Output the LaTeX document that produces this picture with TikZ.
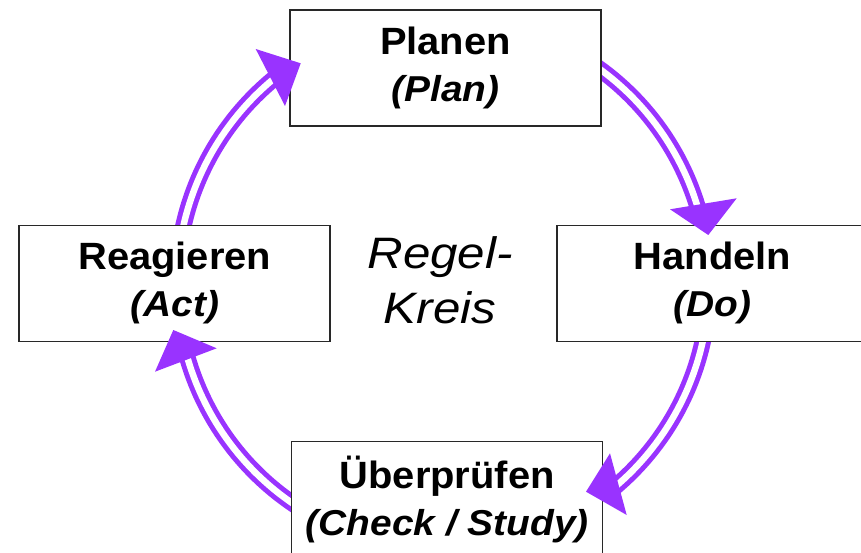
\documentclass[tikz,border=0pt]{standalone}
\usepackage{graphicx}
\usepackage{fontspec}
\setmainfont{Liberation Sans}
\definecolor{loopviolet}{RGB}{153,51,255}
\definecolor{frame}{RGB}{40,40,40}
% two-line stage label: bold name, bold italic English term
\newcommand\twoline[2]{%
  \scalebox{1.05}[1]{\fontsize{38}{47}\selectfont\bfseries #1}\\
  \scalebox{1.08}[1]{\fontsize{36}{47}\selectfont\bfseries\itshape #2}}
\begin{document}
\begin{tikzpicture}[x=1pt,y=1pt,
  stagebox/.style={draw=frame, line width=1.5pt, fill=white,
    minimum width=311pt, minimum height=116pt, align=center, inner sep=0pt,
    font=\fontsize{38}{47}\selectfont},
  shaft/.style={draw=loopviolet, double=white, line width=5pt, double distance=6.5pt},
  head/.style={fill=loopviolet}]
\useasboundingbox (0,0) rectangle (861,552);
\coordinate (ctr) at (443,268);

% curved double shafts (drawn below the boxes, which hide their starts)
\draw[shaft] ([shift={(172:266pt)}]ctr) arc[start angle=172, end angle=129, radius=266pt];
\draw[shaft] ([shift={(58:266pt)}]ctr) arc[start angle=58, end angle=16, radius=266pt];
\draw[shaft] ([shift={(-8:266pt)}]ctr) arc[start angle=-8, end angle=-50, radius=266pt];
\draw[shaft] ([shift={(239:266pt)}]ctr) arc[start angle=239, end angle=195.5, radius=266pt];

% the four stages
\node[stagebox] (plan) at (445.5,484) {\twoline{Planen}{(Plan)}};
\node[stagebox] (do) at (712.5,268.6) {\twoline{Handeln}{(Do)}};
\node[stagebox] (check) at (447.2,52.3) {\twoline{Überprüfen}{(Check / Study)}};
\node[stagebox] (act) at (174.7,268.6) {\twoline{Reagieren}{(Act)}};

% centre label
\node[font=\fontsize{44}{55}\selectfont\itshape, align=center] (loop) at (440,272)
  {\scalebox{1.12}[1]{Regel-}\\\scalebox{1.12}[1]{Kreis}};

% arrow heads
\fill[head] (255.7,503) -- (300.7,488.7) -- (285,446) -- cycle;
\fill[head] (670,342.7) -- (736.7,353.7) -- (708.3,317) -- cycle;
\fill[head] (610,98.7) -- (586,60.3) -- (626.7,37) -- cycle;
\fill[head] (173.3,222) -- (216.7,203.7) -- (155,180.3) -- cycle;
\end{tikzpicture}
\end{document}
